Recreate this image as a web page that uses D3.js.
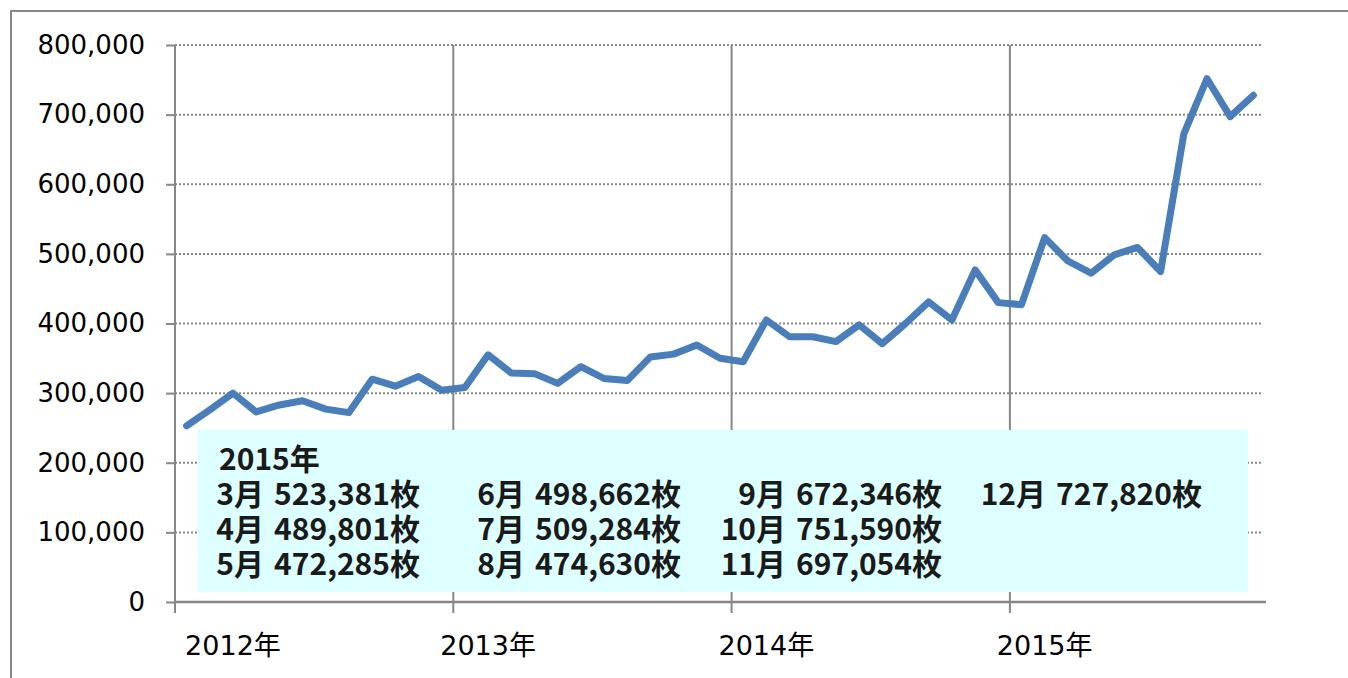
<!DOCTYPE html>
<html>
<head>
<meta charset="utf-8">
<script src="https://cdn.jsdelivr.net/npm/d3@7"></script>
<style>
  body { margin: 0; background: #fff; }
  svg { display: block; }
</style>
</head>
<body>
<div id="chart"></div>
<script>

// monthly categories, Feb 2012 .. Dec 2015
var months = [
  "2012-02","2012-03","2012-04","2012-05","2012-06","2012-07","2012-08","2012-09","2012-10","2012-11","2012-12",
  "2013-01","2013-02","2013-03","2013-04","2013-05","2013-06","2013-07","2013-08","2013-09","2013-10","2013-11","2013-12",
  "2014-01","2014-02","2014-03","2014-04","2014-05","2014-06","2014-07","2014-08","2014-09","2014-10","2014-11","2014-12",
  "2015-01","2015-02","2015-03","2015-04","2015-05","2015-06","2015-07","2015-08","2015-09","2015-10","2015-11","2015-12"
];
var sales = [
  253000, 276000, 300000, 273000, 283000, 289000, 277000, 272000, 320000, 310000, 324000,
  304000, 308000, 355000, 329000, 328000, 314000, 338000, 321000, 318000, 352000, 356000, 369000,
  350000, 345000, 405000, 381000, 381000, 374000, 398000, 371000, 400000, 431000, 405000, 477000,
  430000, 427000, 523381, 489801, 472285, 498662, 509284, 474630, 672346, 751590, 697054, 727820
];
var yTicks = [0, 100000, 200000, 300000, 400000, 500000, 600000, 700000, 800000];
var yearTicks = ["2012-02", "2013-02", "2014-02", "2015-02"];
var yearLabels = ["2012年", "2013年", "2014年", "2015年"];
var yearLabelAt = ["2012-04", "2013-03", "2014-03", "2015-03"];

// note box contents
var noteTitle = "2015年";
var noteMonths = ["3月", "4月", "5月", "6月", "7月", "8月", "9月", "10月", "11月", "12月"];
var noteValues = sales.slice(-10);

var width = 1348;
var height = 678;
var plotLeft = 175, plotRight = 1265, plotTop = 45, plotBottom = 602;
var grey = "#878787";
var latin = "'DejaVu Sans', 'Noto Sans CJK JP', sans-serif";

var svg = d3.select("#chart")
    .append("svg")
    .attr("width", width)
    .attr("height", height);

// outer frame (runs off the picture on right and bottom)
svg.append("rect")
    .attr("x", 11).attr("y", 11)
    .attr("width", 1400).attr("height", 700)
    .attr("fill", "none")
    .attr("stroke", grey)
    .attr("stroke-width", 2);

var x = d3.scaleBand().domain(months).range([plotLeft, plotRight]).padding(0);
var y = d3.scaleLinear().domain([0, 800000]).range([plotBottom, plotTop]);

// horizontal dotted gridlines
svg.append("g")
    .selectAll("line")
    .data(yTicks.slice(1))
    .enter()
    .append("line")
    .attr("x1", plotLeft).attr("x2", plotRight - 2)
    .attr("y1", function (d) { return y(d); })
    .attr("y2", function (d) { return y(d); })
    .attr("stroke", grey)
    .attr("stroke-width", 2)
    .attr("stroke-dasharray", "2,2");

// vertical year gridlines
svg.append("g")
    .selectAll("line")
    .data(yearTicks.slice(1))
    .enter()
    .append("line")
    .attr("x1", function (d) { return x(d); })
    .attr("x2", function (d) { return x(d); })
    .attr("y1", plotTop).attr("y2", plotBottom)
    .attr("stroke", grey)
    .attr("stroke-width", 2);

// y axis
var yAxis = d3.axisLeft(y)
    .tickValues(yTicks)
    .tickSize(9)
    .tickPadding(21)
    .tickFormat(d3.format(","));
var gy = svg.append("g")
    .attr("transform", "translate(" + plotLeft + ",0)")
    .call(yAxis);
gy.select(".domain").remove();
gy.append("line")
    .attr("x1", 0).attr("x2", 0)
    .attr("y1", plotTop).attr("y2", plotBottom + 1)
    .attr("stroke", grey).attr("stroke-width", 2);
gy.selectAll(".tick line").attr("stroke", grey).attr("stroke-width", 2);
gy.selectAll(".tick text")
    .attr("fill", "#000")
    .style("font-family", latin)
    .style("font-size", "26px");

// x axis: line, year ticks, labels
var gx = svg.append("g");
gx.append("line")
    .attr("x1", plotLeft - 1).attr("x2", plotRight + 1)
    .attr("y1", plotBottom).attr("y2", plotBottom)
    .attr("stroke", grey).attr("stroke-width", 2.5);
gx.selectAll(".yt")
    .data(yearTicks)
    .enter()
    .append("line")
    .attr("class", "yt")
    .attr("x1", function (d) { return x(d); })
    .attr("x2", function (d) { return x(d); })
    .attr("y1", plotBottom).attr("y2", plotBottom + 11)
    .attr("stroke", grey).attr("stroke-width", 2);
gx.selectAll("text")
    .data(yearLabels)
    .enter()
    .append("text")
    .attr("x", function (d, i) { return x(yearLabelAt[i]) + x.bandwidth() / 2; })
    .attr("y", 655)
    .attr("text-anchor", "middle")
    .attr("fill", "#000")
    .style("font-family", latin)
    .style("font-size", "27px")
    .text(function (d) { return d; });

// the series line
var line = d3.line()
    .x(function (d, i) { return x(months[i]) + x.bandwidth() / 2; })
    .y(function (d) { return y(d); });

svg.append("path")
    .datum(sales)
    .attr("d", line)
    .attr("fill", "none")
    .attr("stroke", "#4A7EBB")
    .attr("stroke-width", 7)
    .attr("stroke-linejoin", "round")
    .attr("stroke-linecap", "round");

// note box
var note = svg.append("g");
note.append("rect")
    .attr("x", 198).attr("y", 430)
    .attr("width", 1050).attr("height", 162)
    .attr("fill", "#DDFFFF");

var noteFont = "'Noto Sans CJK JP', sans-serif";
note.append("text")
    .attr("x", 219).attr("y", 470)
    .attr("fill", "#1a1a1a")
    .style("font-family", noteFont)
    .style("font-weight", 700)
    .style("font-size", "30px")
    .text(noteTitle);

var colRight = [420, 681, 942, 1202];
note.selectAll(".m")
    .data(noteMonths)
    .enter()
    .append("text")
    .attr("class", "m")
    .attr("x", function (d, i) { return colRight[Math.floor(i / 3)]; })
    .attr("y", function (d, i) { return 505 + (i % 3) * 35; })
    .attr("text-anchor", "end")
    .attr("fill", "#1a1a1a")
    .style("font-family", noteFont)
    .style("font-weight", 700)
    .style("font-size", "30px")
    .text(function (d, i) { return d + "\u2004" + d3.format(",")(noteValues[i]) + "枚"; });

</script>
</body>
</html>
